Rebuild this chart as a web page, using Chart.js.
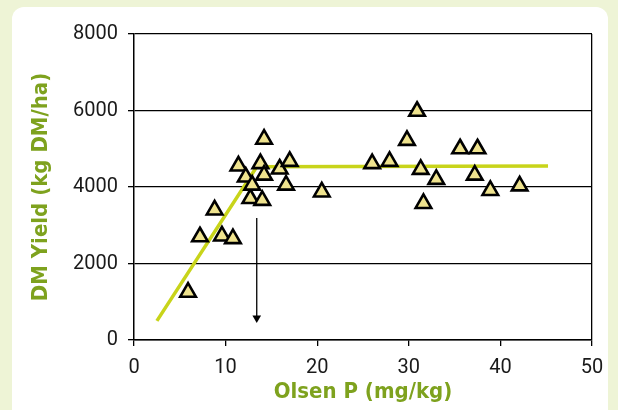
<!DOCTYPE html>
<html>
<head>
<meta charset="utf-8">
<script src="https://cdn.jsdelivr.net/npm/chart.js@4.4.0/dist/chart.umd.min.js"></script>
<style>
  html, body { margin: 0; padding: 0; }
  body { width: 618px; height: 410px; background: #eef4d6; position: relative; overflow: hidden; }
  #panel { position: absolute; left: 12px; top: 7px; width: 596px; height: 420px; background: #ffffff; border-radius: 12px; }
  #wrap { position: absolute; left: 0; top: 0; width: 618px; height: 410px; }
</style>
</head>
<body>
<div id="panel"></div>
<div id="wrap"><canvas id="c" width="618" height="410"></canvas></div>
<script>
// Observed data (Olsen P vs DM yield)
const olsenP = [5.9, 7.2, 8.8, 9.6, 10.8, 11.4, 12.2, 12.7, 12.9, 13.8, 14.2, 14.2, 14.0, 15.9, 17.0, 16.6, 20.5, 26.0, 27.9, 29.8, 30.9, 31.3, 31.6, 33.0, 35.6, 37.5, 37.2, 38.9, 42.1];
const dmYield = [1250, 2700, 3400, 2720, 2650, 4550, 4260, 3700, 4050, 4610, 5250, 4310, 3650, 4470, 4670, 4050, 3870, 4610, 4670, 5220, 5980, 4460, 3570, 4200, 5000, 5000, 4310, 3910, 4030];

// Fitted broken-stick line
const fitX = [2.5, 13.4, 45.2];
const fitY = [500, 4530, 4550];

// Critical value arrow
const arrowX = [13.4, 13.4];
const arrowY = [3190, 575];

// Axis ticks
const xTicks = [0, 10, 20, 30, 40, 50];
const yTicks = [0, 2000, 4000, 6000, 8000];

const titleColor = '#7ea21e';
const tickFont = { family: 'Roboto', size: 20 };
const titleFont = { family: "'DejaVu Sans Condensed', 'Liberation Sans Narrow', 'Arial Narrow', Roboto, sans-serif", size: 22, weight: 'bold' };

new Chart(document.getElementById('c'), {
  type: 'scatter',
  data: {
    datasets: [
      {
        type: 'scatter',
        data: olsenP.map((x, i) => ({ x, y: dmYield[i] })),
        pointStyle: 'triangle',
        pointRadius: 9,
        pointHoverRadius: 9,
        backgroundColor: '#efe38e',
        borderColor: '#000000',
        borderWidth: 2.6,
        order: 1
      },
      {
        type: 'line',
        data: fitX.map((x, i) => ({ x, y: fitY[i] })),
        borderColor: '#c8d41a',
        borderWidth: 3.5,
        pointRadius: 0,
        fill: false,
        order: 3
      },
      {
        type: 'line',
        data: arrowX.map((x, i) => ({ x, y: arrowY[i] })),
        borderColor: '#000000',
        borderWidth: 1.3,
        pointStyle: 'triangle',
        pointRadius: [0, 5],
        pointRotation: 180,
        backgroundColor: '#000000',
        pointBorderWidth: 0,
        fill: false,
        order: 2
      }
    ]
  },
  options: {
    responsive: false,
    animation: false,
    devicePixelRatio: 1,
    layout: { padding: { left: 0, top: 34, right: 26, bottom: 0 } },
    plugins: { legend: { display: false }, tooltip: { enabled: false } },
    scales: {
      x: {
        type: 'linear',
        min: 0, max: 50,
        afterBuildTicks: s => { s.ticks = xTicks.map(v => ({ value: v })); },
        afterFit: s => { s.height = 70; },
        ticks: { font: tickFont, color: '#1a1a1a', padding: 10, maxRotation: 0, callback: v => String(v) },
        grid: {
          drawOnChartArea: true,
          color: ctx => (ctx.tick && ctx.tick.value === 50) ? '#000000' : 'rgba(0,0,0,0)',
          tickColor: '#000000',
          tickLength: 6,
          lineWidth: 1.3
        },
        border: { display: true, color: '#000000', width: 1.5 },
        title: { display: true, text: 'Olsen P (mg/kg)', color: titleColor, font: titleFont, padding: { top: 0, bottom: 5 } }
      },
      y: {
        type: 'linear',
        min: 0, max: 8000,
        afterBuildTicks: s => { s.ticks = yTicks.map(v => ({ value: v })); },
        afterFit: s => { s.width = 134; },
        ticks: { font: tickFont, color: '#1a1a1a', padding: 10, callback: v => String(v) },
        grid: { color: '#000000', tickColor: '#000000', tickLength: 6, lineWidth: 1.3 },
        border: { display: true, color: '#000000', width: 1.5 },
        title: { display: true, text: 'DM Yield (kg DM/ha)', color: titleColor, font: titleFont, padding: { top: 28, bottom: 0 } }
      }
    }
  }
});
</script>
</body>
</html>
